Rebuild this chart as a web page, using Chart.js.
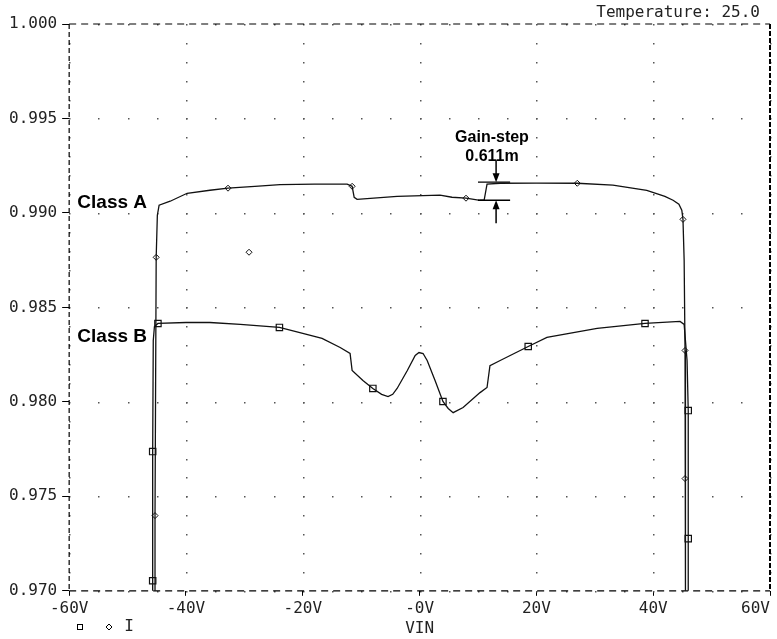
<!DOCTYPE html>
<html>
<head>
<meta charset="utf-8">
<script src="https://cdn.jsdelivr.net/npm/chart.js@4.4.1/dist/chart.umd.min.js"></script>
<style>
  html, body { margin: 0; padding: 0; background: #fff; }
  #wrap { position: relative; width: 777px; height: 639px; }
</style>
</head>
<body>
<div id="wrap"><canvas id="gainChart"></canvas></div>
<script>
// Class A trace: VIN (volts) and gain
const classAVin  = [-45.3, -45.3, -45.1, -44.9, -44.6, -42.7, -39.8, -35.9, -32.8, -28.2, -23.9, -18.0, -12.4, -11.55, -11.2, -10.7, -3.85, 3.5, 5.55, 7.95, 10.35, 11.05, 11.55, 13.8, 20.0, 27.0, 33.1, 38.9, 42.0, 43.4, 44.4, 44.9, 45.1, 45.3, 45.45, 45.45, 45.6];
const classAGain = [0.9695, 0.97398, 0.98765, 0.98988, 0.99041, 0.99062, 0.99104, 0.99120, 0.99131, 0.99141, 0.99150, 0.99153, 0.99152, 0.99141, 0.99083, 0.99072, 0.99088, 0.99094, 0.99083, 0.99078, 0.99067, 0.99067, 0.99152, 0.99157, 0.99158, 0.99157, 0.99147, 0.99120, 0.99088, 0.99067, 0.99046, 0.99014, 0.98966, 0.98749, 0.98272, 0.97594, 0.9695];

// Class A diamond markers
const classAMarkVin  = [-45.3, -45.1, -32.8, -11.55, 7.95, 27.0, 45.1, 45.45, 45.45];
const classAMarkGain = [0.97398, 0.98765, 0.99131, 0.99141, 0.99078, 0.99157, 0.98966, 0.98272, 0.97594];

// Class B trace
const classBVin  = [-45.7, -45.7, -45.6, -45.4, -44.8, -40.0, -35.9, -30.7, -24.0, -20.5, -16.7, -13.6, -11.9, -11.55, -9.7, -8.0, -6.5, -5.4, -4.6, -3.85, -2.1, -0.75, -0.1, 0.6, 1.3, 2.65, 4.0, 4.9, 5.75, 7.45, 10.35, 11.55, 12.05, 13.8, 18.6, 21.8, 30.4, 38.6, 44.6, 45.3, 45.8, 46.0, 46.0, 46.0];
const classBGain = [0.9695, 0.97737, 0.98325, 0.98399, 0.98415, 0.98420, 0.98420, 0.98410, 0.98394, 0.98367, 0.98336, 0.98288, 0.98256, 0.98166, 0.98113, 0.98071, 0.98040, 0.98028, 0.98040, 0.98071, 0.98166, 0.98246, 0.98261, 0.98256, 0.98219, 0.98113, 0.98002, 0.97965, 0.97943, 0.97970, 0.98049, 0.98076, 0.98192, 0.98219, 0.98293, 0.98341, 0.98389, 0.98415, 0.98426, 0.98410, 0.98219, 0.97954, 0.97276, 0.9695];

// Class B square markers
const classBMarkVin  = [-45.7, -45.7, -44.8, -24.0, -8.0, 4.0, 18.6, 38.6, 46.0, 46.0];
const classBMarkGain = [0.97053, 0.97737, 0.98415, 0.98394, 0.98071, 0.98002, 0.98293, 0.98415, 0.97954, 0.97276];

// lone marker left on the plot
const strayVin  = [-29.2];
const strayGain = [0.98792];

// axes
const xTicks = [-60, -40, -20, 0, 20, 40, 60];
const xTickLabels = ['-60V', '-40V', '-20V', '-0V', '20V', '40V', '60V'];
const yTicks = [0.970, 0.975, 0.980, 0.985, 0.990, 0.995, 1.000];
const yTickLabels = ['0.970', '0.975', '0.980', '0.985', '0.990', '0.995', '1.000'];

// gain-step annotation (VIN range of the bars, gain of the bars, arrow VIN, arrow tails)
const stepBarVin  = [10.0, 15.5];
const stepBarGain = [0.99163, 0.99067];
const stepArrowVin = 13.1;
const stepArrowTail = [0.99279, 0.98945];

const monoFont = '"DejaVu Sans Mono", monospace';
const boldFont = '"Liberation Sans", Arial, sans-serif';

const toPoints = (xs, ys) => xs.map((v, i) => ({ x: v, y: ys[i] }));

// dotted grid: dots every 5V on the horizontal lines, every 0.001 on the vertical lines
const dotGrid = {
  id: 'dotGrid',
  beforeDatasetsDraw(chart) {
    const { ctx, scales: { x, y } } = chart;
    ctx.save();
    ctx.fillStyle = '#555';
    yTicks.forEach(g => {
      const py = Math.round(y.getPixelForValue(g));
      for (let v = -55; v < 60; v += 5) {
        ctx.fillRect(Math.round(x.getPixelForValue(v)), py, 1.5, 1.5);
      }
    });
    xTicks.forEach(v => {
      const px = Math.round(x.getPixelForValue(v));
      for (let k = 1; k < 30; k++) {
        ctx.fillRect(px, Math.round(y.getPixelForValue(0.970 + k * 0.001)), 1.5, 1.5);
      }
    });
    ctx.restore();
  }
};

// dashed frame around the plot area
const frame = {
  id: 'frame',
  beforeDatasetsDraw(chart) {
    const { ctx, chartArea: a } = chart;
    const seg = (x1, y1, x2, y2, dash, w) => {
      ctx.save();
      ctx.strokeStyle = '#000';
      ctx.lineWidth = w;
      ctx.setLineDash(dash);
      ctx.beginPath();
      ctx.moveTo(x1, y1);
      ctx.lineTo(x2, y2);
      ctx.stroke();
      ctx.restore();
    };
    seg(a.left, a.top, a.right, a.top, [7, 5], 1.2);
    seg(a.left, a.bottom, a.right, a.bottom, [7, 5], 1.2);
    seg(a.left, a.top, a.left, a.bottom, [5, 3], 1.2);
    seg(a.right, a.top, a.right, a.bottom, [5, 2], 2);
  }
};

// texts, gain-step arrows and the little trace legend
const notes = {
  id: 'notes',
  afterDatasetsDraw(chart) {
    const { ctx, scales: { x, y } } = chart;
    ctx.save();
    ctx.fillStyle = '#000';
    ctx.strokeStyle = '#000';

    // last x label sits inside the right edge
    const items = x.getLabelItems();
    const first = items[0];
    ctx.font = first.font.string;
    ctx.fillStyle = '#222';
    ctx.textAlign = 'right';
    ctx.textBaseline = first.options.textBaseline;
    ctx.fillText(xTickLabels[xTickLabels.length - 1], x.right, first.options.translation[1] + first.textOffset);

    // temperature
    ctx.font = '16px ' + monoFont;
    ctx.textBaseline = 'middle';
    ctx.fillText('Temperature: 25.0', 760, 13);

    // trace names
    ctx.fillStyle = '#000';
    ctx.font = 'bold 19px ' + boldFont;
    ctx.textAlign = 'left';
    ctx.fillText('Class A', x.getPixelForValue(-58.6), y.getPixelForValue(0.99056));
    ctx.fillText('Class B', x.getPixelForValue(-58.6), y.getPixelForValue(0.98346));

    // gain-step label
    ctx.font = 'bold 16px ' + boldFont;
    ctx.textAlign = 'center';
    ctx.fillText('Gain-step', x.getPixelForValue(12.4), y.getPixelForValue(0.99401));
    ctx.fillText('0.611m', x.getPixelForValue(12.4), y.getPixelForValue(0.99300));

    // bars
    const bx1 = x.getPixelForValue(stepBarVin[0]);
    const bx2 = x.getPixelForValue(stepBarVin[1]);
    ctx.lineWidth = 1.3;
    stepBarGain.forEach(g => {
      const py = y.getPixelForValue(g);
      ctx.beginPath();
      ctx.moveTo(bx1, py);
      ctx.lineTo(bx2, py);
      ctx.stroke();
    });

    // arrows
    const ax = x.getPixelForValue(stepArrowVin);
    const arrow = (fromG, toG) => {
      const y0 = y.getPixelForValue(fromG);
      const y1 = y.getPixelForValue(toG);
      const dir = Math.sign(y1 - y0);
      ctx.lineWidth = 1.5;
      ctx.beginPath();
      ctx.moveTo(ax, y0);
      ctx.lineTo(ax, y1 - dir * 6);
      ctx.stroke();
      ctx.beginPath();
      ctx.moveTo(ax, y1);
      ctx.lineTo(ax - 3.5, y1 - dir * 9);
      ctx.lineTo(ax + 3.5, y1 - dir * 9);
      ctx.closePath();
      ctx.fill();
    };
    arrow(stepArrowTail[0], stepBarGain[0]);
    arrow(stepArrowTail[1], stepBarGain[1]);

    // trace legend under the plot
    ctx.lineWidth = 1;
    ctx.strokeRect(77.5, 624.5, 5, 5);
    ctx.beginPath();
    ctx.moveTo(109, 624);
    ctx.lineTo(112, 627);
    ctx.lineTo(109, 630);
    ctx.lineTo(106, 627);
    ctx.closePath();
    ctx.stroke();
    ctx.font = '16px ' + monoFont;
    ctx.fillStyle = '#222';
    ctx.textAlign = 'center';
    ctx.fillText('I', 129, 627);
    ctx.restore();
  }
};

const ctxGain = document.getElementById('gainChart').getContext('2d');

new Chart(ctxGain, {
  type: 'line',
  data: {
    datasets: [
      { label: 'Class A', data: toPoints(classAVin, classAGain), borderColor: '#111', borderWidth: 1.3, pointRadius: 0, tension: 0, fill: false },
      { label: 'Class B', data: toPoints(classBVin, classBGain), borderColor: '#111', borderWidth: 1.3, pointRadius: 0, tension: 0, fill: false },
      { label: 'Class A marks', data: toPoints(classAMarkVin, classAMarkGain), showLine: false, pointStyle: 'rectRot', pointRadius: 3, backgroundColor: '#fff', borderColor: '#111', borderWidth: 1 },
      { label: 'Class B marks', data: toPoints(classBMarkVin, classBMarkGain), showLine: false, pointStyle: 'rect', pointRadius: 4.5, backgroundColor: '#fff', borderColor: '#111', borderWidth: 1.2 },
      { label: 'stray', data: toPoints(strayVin, strayGain), showLine: false, pointStyle: 'rectRot', pointRadius: 3, backgroundColor: '#fff', borderColor: '#111', borderWidth: 1 }
    ]
  },
  options: {
    responsive: true,
    maintainAspectRatio: false,
    animation: false,
    events: [],
    layout: { padding: { top: 24, left: 4, right: 7, bottom: 2 } },
    plugins: { legend: { display: false }, tooltip: { enabled: false } },
    scales: {
      x: {
        type: 'linear',
        min: -60,
        max: 60,
        afterBuildTicks: s => { s.ticks = xTicks.map(v => ({ value: v })); },
        ticks: {
          color: '#222',
          font: { family: monoFont, size: 16 },
          padding: 3,
          maxRotation: 0,
          autoSkip: false,
          callback: (v, i) => (i === xTicks.length - 1 ? '' : xTickLabels[i])
        },
        grid: { drawOnChartArea: false, drawTicks: true, tickLength: 5, tickColor: '#000' },
        border: { display: false },
        title: { display: true, text: 'VIN', color: '#222', font: { family: monoFont, size: 16, lineHeight: 1 }, padding: { top: 0, bottom: 0 } }
      },
      y: {
        min: 0.970,
        max: 1.000,
        afterBuildTicks: s => { s.ticks = yTicks.map(v => ({ value: v })); },
        ticks: {
          color: '#222',
          font: { family: monoFont, size: 16 },
          padding: 5,
          callback: (v, i) => yTickLabels[i]
        },
        grid: { drawOnChartArea: false, drawTicks: true, tickLength: 7, tickColor: '#000' },
        border: { display: false }
      }
    }
  },
  plugins: [dotGrid, frame, notes]
});
</script>
</body>
</html>
